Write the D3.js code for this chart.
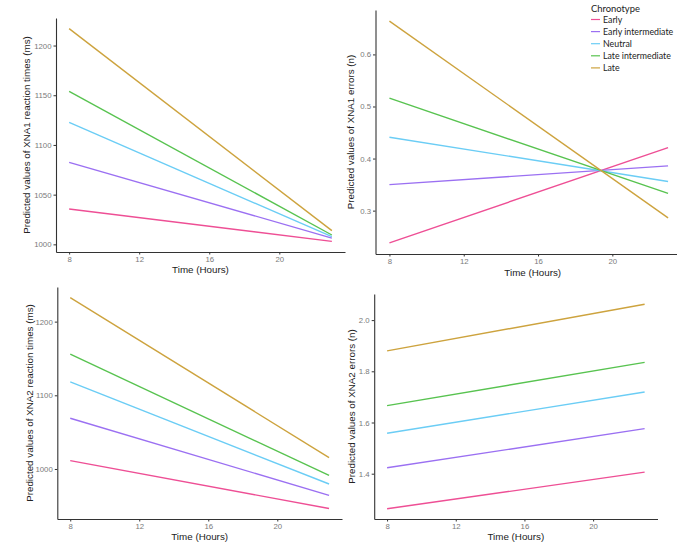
<!DOCTYPE html>
<html>
<head>
<meta charset="utf-8">
<script src="https://cdn.jsdelivr.net/npm/d3@7"></script>
<style>
  body { margin: 0; background: #fff; }
  svg { display: block; }
</style>
</head>
<body>
<div id="chart"></div>
<script>
// Data (predicted values at 8h and 23h)
const hours = [8, 23];
const chronotypes = ["Early", "Early intermediate", "Neutral", "Late intermediate", "Late"];
const colors = ["#ee4f95", "#9b70f2", "#6bcdf5", "#58c350", "#cda33e"];

const xna1RtStart = [1035.5, 1082.5, 1122.7, 1154, 1217];
const xna1RtEnd = [1003, 1006.3, 1007.7, 1009.4, 1013.8];
const xna1ErrStart = [0.238, 0.350, 0.441, 0.516, 0.664];
const xna1ErrEnd = [0.421, 0.386, 0.356, 0.333, 0.286];
const xna2RtStart = [1011.3, 1068.8, 1118.1, 1155.9, 1232.7];
const xna2RtEnd = [946.4, 964.1, 979.6, 991.3, 1015.4];
const xna2ErrStart = [1.263, 1.423, 1.558, 1.666, 1.880];
const xna2ErrEnd = [1.406, 1.576, 1.719, 1.835, 2.062];

const xTicks = [8, 12, 16, 20];
const xna1RtTicks = [1000, 1050, 1100, 1150, 1200];
const xna1ErrTicks = [0.3, 0.4, 0.5, 0.6];
const xna2RtTicks = [1000, 1100, 1200];
const xna2ErrTicks = [1.4, 1.6, 1.8, 2.0];

const width = 677;
const height = 551;
const AXIS_FONT = "'Liberation Sans', Arial, sans-serif";
const LEGEND_FONT = "Lato, 'Open Sans', sans-serif";

// panel layout (pixel boxes of each plot area)
const panels = [
  { start: xna1RtStart, end: xna1RtEnd, ticks: xna1RtTicks, fmt: d3.format("d"),
    ytitle: "Predicted values of XNA1 reaction times (ms)",
    left: 56, right: 345, top: 18, bottom: 252, ytx: 27, xty: 272.5, xtdx: 0 },
  { start: xna1ErrStart, end: xna1ErrEnd, ticks: xna1ErrTicks, fmt: d3.format(".1f"),
    ytitle: "Predicted values of XNA1 errors (n)",
    left: 375.5, right: 682, top: 10, bottom: 254, ytx: 351, xty: 276, xtdx: 4 },
  { start: xna2RtStart, end: xna2RtEnd, ticks: xna2RtTicks, fmt: d3.format("d"),
    ytitle: "Predicted values of XNA2 reaction times (ms)",
    left: 57.3, right: 342, top: 287, bottom: 519, ytx: 29.5, xty: 540, xtdx: 0 },
  { start: xna2ErrStart, end: xna2ErrEnd, ticks: xna2ErrTicks, fmt: d3.format(".1f"),
    ytitle: "Predicted values of XNA2 errors (n)",
    left: 374.2, right: 657.5, top: 294, bottom: 519, ytx: 352, xty: 540, xtdx: 0 }
];

const svg = d3.select("#chart")
  .append("svg")
  .attr("width", width)
  .attr("height", height);

// ggplot-like 5% expansion of a range
const expand = ext => {
  const pad = (ext[1] - ext[0]) * 0.05;
  return [ext[0] - pad, ext[1] + pad];
};

panels.forEach(p => {
  const g = svg.append("g");

  const x = d3.scaleLinear()
    .domain(expand(d3.extent(hours)))
    .range([p.left, p.right]);
  const y = d3.scaleLinear()
    .domain(expand(d3.extent([...p.start, ...p.end])))
    .range([p.bottom, p.top]);

  const series = chronotypes.map((name, i) => ({
    name,
    color: colors[i],
    values: [[hours[0], p.start[i]], [hours[1], p.end[i]]]
  }));

  const line = d3.line().x(d => x(d[0])).y(d => y(d[1]));

  g.selectAll("path.series")
    .data(series)
    .join("path")
    .attr("class", "series")
    .attr("d", d => line(d.values))
    .attr("fill", "none")
    .attr("stroke", d => d.color)
    .attr("stroke-width", 1.4);

  // axes
  const xAxis = g.append("g")
    .attr("transform", `translate(0,${p.bottom})`)
    .call(d3.axisBottom(x).tickValues(xTicks).tickSize(2.5).tickPadding(2).tickSizeOuter(0));
  const yAxis = g.append("g")
    .attr("transform", `translate(${p.left},0)`)
    .call(d3.axisLeft(y).tickValues(p.ticks).tickFormat(p.fmt).tickSize(2.5).tickPadding(2).tickSizeOuter(0));

  [xAxis, yAxis].forEach(a => {
    a.attr("font-family", null).attr("font-size", null);
    a.select(".domain").attr("stroke", "#333").attr("stroke-width", 1.1);
    a.selectAll(".tick line").attr("stroke", "#333");
    a.selectAll(".tick text")
      .attr("fill", "#7a7a7a")
      .style("font-family", AXIS_FONT)
      .style("font-size", "7.8px");
  });

  // axis titles
  g.append("text")
    .attr("x", (p.left + p.right) / 2 + p.xtdx)
    .attr("y", p.xty)
    .attr("text-anchor", "middle")
    .attr("fill", "#222")
    .style("font-family", AXIS_FONT)
    .style("font-size", "9.8px")
    .text("Time (Hours)");

  g.append("text")
    .attr("transform", `translate(${p.ytx},${(p.top + p.bottom) / 2}) rotate(-90)`)
    .attr("text-anchor", "middle")
    .attr("dy", "0.35em")
    .attr("fill", "#222")
    .style("font-family", AXIS_FONT)
    .style("font-size", "9.8px")
    .text(p.ytitle);
});

// legend
const legend = svg.append("g")
  .attr("class", "legend")
  .attr("transform", "translate(591,0)");

legend.append("text")
  .attr("x", 0)
  .attr("y", 11.5)
  .attr("fill", "#222")
  .style("font-family", LEGEND_FONT)
  .style("font-size", "9.4px")
  .text("Chronotype");

const items = legend.selectAll(".legend-item")
  .data(chronotypes)
  .join("g")
  .attr("class", "legend-item")
  .attr("transform", (_, i) => `translate(0,${19.5 + i * 12.1})`);

items.append("line")
  .attr("x1", 0)
  .attr("x2", 9)
  .attr("stroke", (_, i) => colors[i])
  .attr("stroke-width", 1.2);

items.append("text")
  .attr("x", 12)
  .attr("dy", "0.35em")
  .attr("fill", "#222")
  .style("font-family", LEGEND_FONT)
  .style("font-size", "8.8px")
  .text(d => d);
</script>
</body>
</html>
